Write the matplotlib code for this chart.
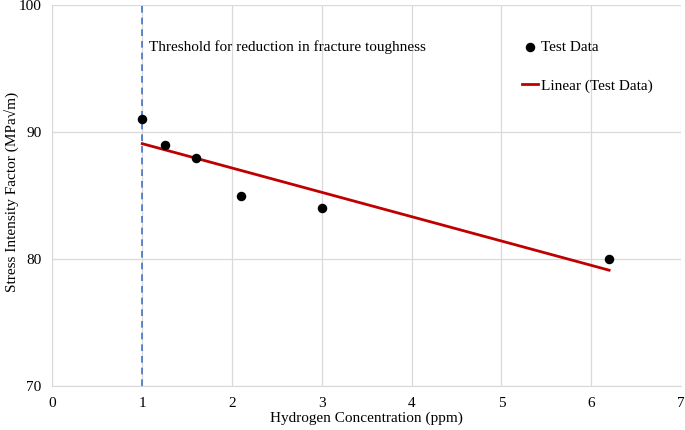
import numpy as np
import matplotlib.pyplot as plt

# Dane pomiarowe
stezenie_h = [1.0, 1.25, 1.6, 2.1, 3.0, 6.2]
k_ic = [91, 89, 88, 85, 84, 80]
prog = 1.0

plt.rcParams['font.family'] = ['Liberation Serif', 'DejaVu Serif']

fig = plt.figure(figsize=(6.85, 4.3), dpi=100)
ax = fig.add_axes([0.0766, 0.1023, 0.9175, 0.8857])

# Linia trendu (regresja liniowa)
a, b = np.polyfit(stezenie_h, k_ic, 1)
xs = np.array([min(stezenie_h), max(stezenie_h)])

ax.axvline(prog, color='#4472C4', linestyle=(0, (4, 3)), linewidth=1.2, zorder=2)
ax.scatter(stezenie_h, k_ic, color='black', s=34, zorder=4, label='Test Data')
ax.plot(xs, a * xs + b, color='#C00000', linewidth=2, zorder=3, label='Linear (Test Data)')

ax.text(1.07, 96.7, 'Threshold for reduction in fracture toughness', fontsize=11, va='center')

ax.set_xlim(0, 7)
ax.set_ylim(70, 100)
ax.set_xticks(range(0, 8))
ax.set_yticks([70, 80, 90, 100])
ax.grid(True, color='#D9D9D9', linewidth=0.9, zorder=0)
ax.set_axisbelow(True)
for s in ['top', 'right']:
    ax.spines[s].set_visible(False)
for s in ['left', 'bottom']:
    ax.spines[s].set_color('#D9D9D9')
ax.tick_params(length=0, labelsize=11)
ax.tick_params(axis='x', pad=8)
ax.tick_params(axis='y', pad=8)

ax.set_xlabel('Hydrogen Concentration (ppm)', fontsize=11)
ax.set_ylabel('Stress Intensity Factor (MPa\u221am)', fontsize=11)
ax.xaxis.set_label_coords(0.5, -0.066)
ax.yaxis.set_label_coords(-0.054, 0.509)

ax.legend(loc='upper left', bbox_to_anchor=(0.7245, 0.945), frameon=False, fontsize=11,
          handlelength=1.1, handletextpad=0.2, labelspacing=1.65)

fig.savefig('out.png', dpi=100)
